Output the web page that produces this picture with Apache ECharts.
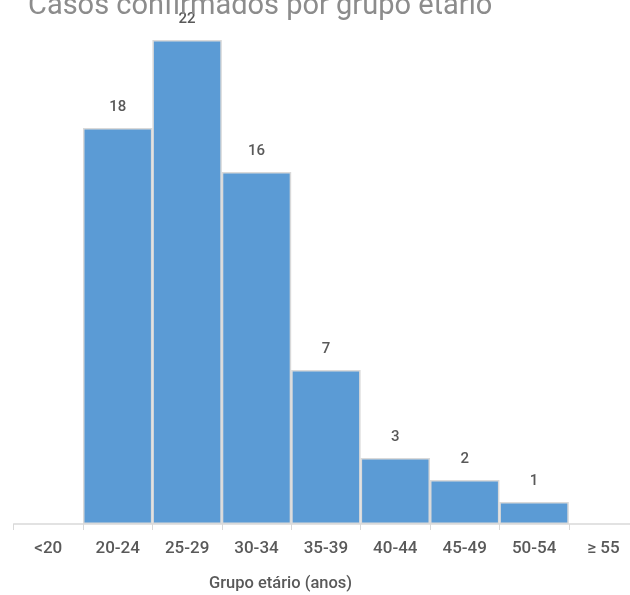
<!DOCTYPE html>
<html><head><meta charset="utf-8">
<script src="https://cdn.jsdelivr.net/npm/echarts@6/dist/echarts.min.js"></script>
<style>html,body{margin:0;padding:0;background:#fff}#c{width:630px;height:595px}</style>
</head><body><div id="c"></div>
<script>
const categories = ['<20','20-24','25-29','30-34','35-39','40-44','45-49','50-54','≥ 55'];
const cases = [0,18,22,16,7,3,2,1,0];
const titleText = 'Casos confirmados por grupo etário';
const axisTitle = 'Grupo etário (anos)';
const narrow = 'Roboto, sans-serif';
const chart = echarts.init(document.getElementById('c'));
chart.setOption({
  animation:false,
  title:{text:titleText,left:23,top:-13,textStyle:{color:'#8c8c8c',fontSize:29,fontWeight:'normal',fontFamily:'Roboto, sans-serif'}},
  grid:{left:13.6,top:40,width:624.6,height:484,containLabel:false,outerBoundsMode:'none'},
  xAxis:{type:'category',data:categories,
    axisLine:{lineStyle:{color:'#d9d9d9',width:1.5}},
    axisTick:{show:true,alignWithLabel:false,length:6,lineStyle:{color:'#d9d9d9'}},
    axisLabel:{color:'#595959',fontSize:17,fontWeight:500,fontFamily:narrow,margin:16}},
  yAxis:{type:'value',min:0,max:22,show:false,splitLine:{show:false}},
  series:[{type:'bar',data:cases.map(v=>v===0?null:v),barWidth:'100%',barGap:'0%',
    itemStyle:{color:'#5b9bd5',borderColor:'#d9d9d9',borderWidth:1.5},
    label:{show:true,position:'top',distance:13,color:'#595959',fontSize:15,fontWeight:500,fontFamily:narrow}}],
  graphic:[{type:'text',left:209,top:575,style:{text:axisTitle,fill:'#595959',fontSize:16.5,fontWeight:500,fontFamily:narrow}}]
});
</script></body></html>
